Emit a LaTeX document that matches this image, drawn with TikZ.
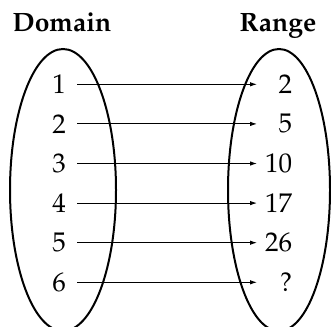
\documentclass[tikz,border=0pt]{standalone}
\usepackage[T1]{fontenc}
\usepackage{mathpazo}
\usetikzlibrary{arrows.meta}
\tikzset{
  setoval/.style={line width=2pt},
  dnum/.style={anchor=east, inner xsep=11pt, inner ysep=0pt, font=\fontsize{27}{32}\selectfont},
  rnum/.style={anchor=west, text width=35pt, align=right, inner xsep=0pt, inner ysep=0pt, font=\fontsize{27}{32}\selectfont},
  maparrow/.style={line width=0.9pt, -{Latex[length=7pt,width=4.5pt]}},
  heading/.style={anchor=base, inner sep=0pt, font=\fontsize{26.5}{32}\selectfont\bfseries}
}
\begin{document}
\begin{tikzpicture}[x=1pt,y=-1pt]
\useasboundingbox (0,0) rectangle (331,326);
\node[heading] (dom) at (62,32) {Domain};
\node[heading] (ran) at (278,32) {Range};
\draw[setoval] (63,190) ellipse [x radius=53pt, y radius=141pt];
\draw[setoval] (279,190) ellipse [x radius=51pt, y radius=141pt];
\foreach \i/\a/\b in {1/1/2,2/2/5,3/3/10,4/4/17,5/5/26,6/6/?}{
  \node[dnum] (l\i) at (77,{84.3+(\i-1)*39.6}) {\a};
  \node[rnum] (r\i) at (257,{84.3+(\i-1)*39.6}) {\b};
  \draw[maparrow] (l\i) -- (r\i);
}
\end{tikzpicture}
\end{document}
